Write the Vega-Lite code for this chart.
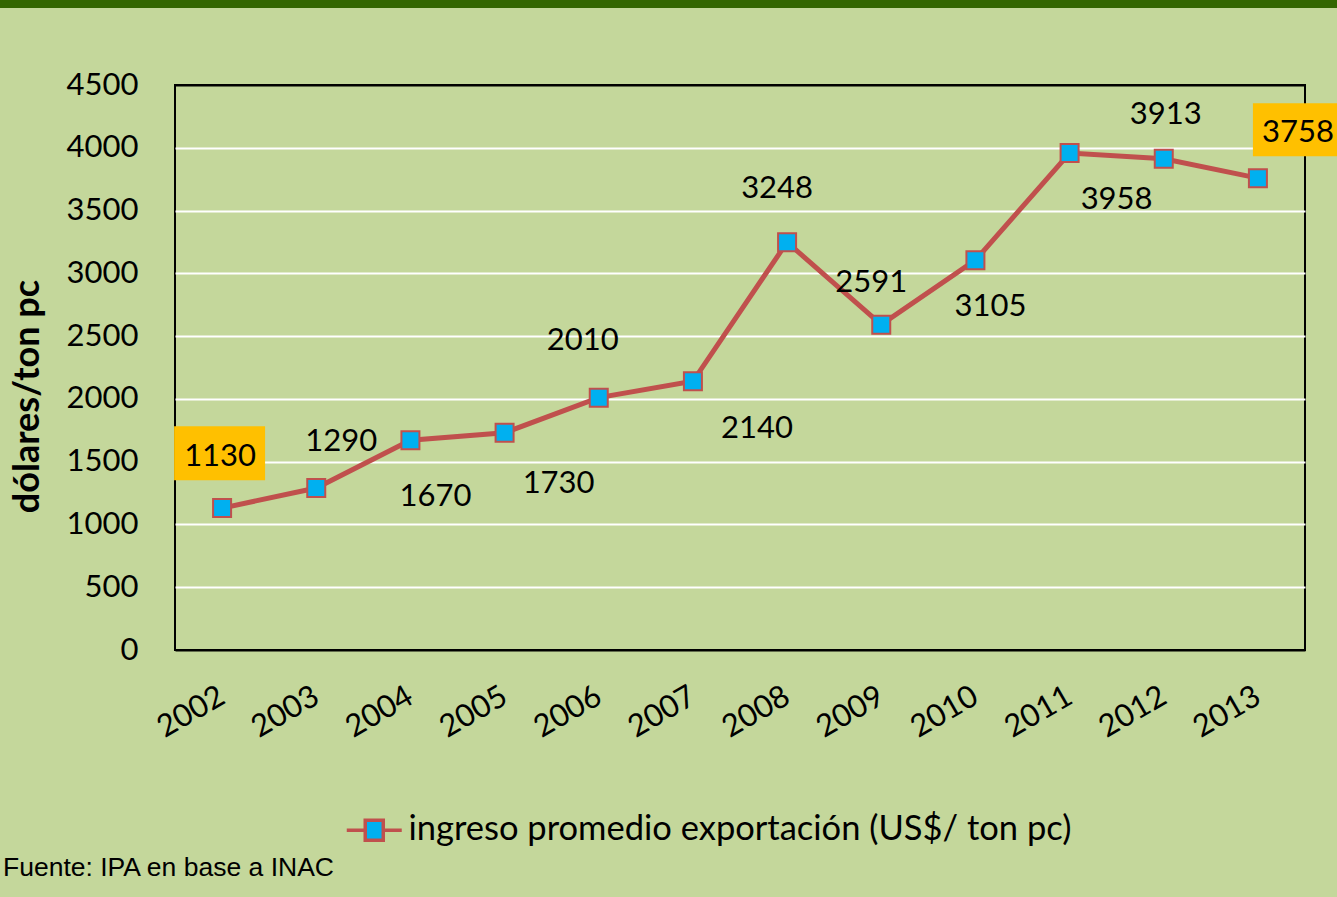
{
  "$schema": "https://vega.github.io/schema/vega-lite/v6.json",
  "background": "#c4d79b",
  "autosize": {"type": "none"},
  "padding": {"left": 175, "top": 85, "right": 32, "bottom": 247},
  "width": 1130,
  "height": 565,
  "title": {
    "text": "Fuente: IPA en base a INAC",
    "orient": "bottom",
    "anchor": "start",
    "frame": "group",
    "font": "Liberation Sans",
    "fontSize": 26.5,
    "fontWeight": "normal",
    "color": "black",
    "dx": -172,
    "offset": 7
  },
  "data": {
    "values": [
      {"year": "2002", "value": 1130},
      {"year": "2003", "value": 1290},
      {"year": "2004", "value": 1670},
      {"year": "2005", "value": 1730},
      {"year": "2006", "value": 2010},
      {"year": "2007", "value": 2140},
      {"year": "2008", "value": 3248},
      {"year": "2009", "value": 2591},
      {"year": "2010", "value": 3105},
      {"year": "2011", "value": 3958},
      {"year": "2012", "value": 3913},
      {"year": "2013", "value": 3758}
    ]
  },
  "encoding": {
    "x": {
      "field": "year",
      "type": "ordinal",
      "scale": {"type": "point", "padding": 0.5},
      "axis": {
        "title": null,
        "labelAngle": -30,
        "labelAlign": "right",
        "labelBaseline": "middle",
        "labelPadding": 44,
        "labelFont": "Lato",
        "labelFontSize": 31,
        "labelColor": "black",
        "ticks": false,
        "domain": false,
        "grid": false
      }
    },
    "y": {
      "field": "value",
      "type": "quantitative",
      "scale": {"domain": [0, 4500], "nice": false},
      "axis": {
        "title": "dólares/ton pc",
        "titleFont": "Lato",
        "titleFontSize": 36,
        "titleFontWeight": "bold",
        "titleColor": "black",
        "titleX": -148,
        "titleY": 311,
        "titleAngle": -90,
        "titleAlign": "center",
        "titleBaseline": "middle",
        "values": [0, 500, 1000, 1500, 2000, 2500, 3000, 3500, 4000, 4500],
        "format": "d",
        "labelFont": "Lato",
        "labelFontSize": 31,
        "labelColor": "black",
        "labelPadding": 37,
        "ticks": false,
        "domain": false,
        "grid": true,
        "gridWidth": 2,
        "gridColor": {"condition": {"test": "datum.value === 0 || datum.value === 4500", "value": "black"}, "value": "white"}
      }
    }
  },
  "layer": [
    {
      "data": {"values": [{}]},
      "mark": {"type": "rect", "x": -175, "x2": 1162, "y": -85, "y2": -77, "color": "#336600"},
      "encoding": {"x": null, "y": null}
    },
    {
      "mark": {"type": "line", "color": "#c0504d", "strokeWidth": 5}
    },
    {
      "mark": {"type": "point", "shape": "square", "size": 324, "filled": true, "fill": "#00b0f0", "stroke": "#c0504d", "strokeWidth": 2, "opacity": 1}
    },
    {
      "transform": [{"filter": "false"}],
      "mark": {"type": "point", "shape": "M-2,0H-0.655M0.655,0H2M-0.655,-0.727H0.655V0.727H-0.655Z", "filled": false, "fill": "#00b0f0", "strokeWidth": 3.5, "opacity": 1},
      "encoding": {
        "stroke": {
          "datum": "ingreso promedio exportación (US$/ ton pc)",
          "type": "nominal",
          "scale": {
            "domain": ["ingreso promedio exportación (US$/ ton pc)"],
            "range": ["#c0504d"]
          },
          "legend": {
            "orient": "none",
            "legendX": 182,
            "legendY": 728,
            "title": null,
            "padding": 0,
            "labelFont": "Lato",
            "labelFontSize": 34.5,
            "labelColor": "black",
            "labelLimit": 0,
            "labelOffset": 17,
            "symbolType": "M-2,0H-0.655M0.655,0H2M-0.655,-0.727H0.655V0.727H-0.655Z",
            "symbolSize": 756,
            "symbolStrokeWidth": 3.5,
            "symbolFillColor": "#00b0f0",
            "symbolOpacity": 1
          }
        }
      }
    },
    {
      "transform": [{"filter": "datum.year == '2002'"}],
      "mark": {"type": "point", "shape": "M-1.055,-1.802L0.945,-1.802L0.945,-0.615L-1.055,-0.615Z", "size": 8281, "filled": true, "fill": "#ffc000", "strokeWidth": 0, "opacity": 1}
    },
    {
      "transform": [{"filter": "datum.year == '2013'"}],
      "mark": {"type": "point", "shape": "M-0.11,-1.648L1.89,-1.648L1.89,-0.484L-0.11,-0.484Z", "size": 8281, "filled": true, "fill": "#ffc000", "strokeWidth": 0, "opacity": 1}
    },
    {"transform": [{"filter": "datum.year == '2002'"}], "mark": {"type": "text", "dx": -2, "dy": -51}, "encoding": {"text": {"field": "value"}}},
    {"transform": [{"filter": "datum.year == '2003'"}], "mark": {"type": "text", "dx": 25, "dy": -46}, "encoding": {"text": {"field": "value"}}},
    {"transform": [{"filter": "datum.year == '2004'"}], "mark": {"type": "text", "dx": 25, "dy": 57}, "encoding": {"text": {"field": "value"}}},
    {"transform": [{"filter": "datum.year == '2005'"}], "mark": {"type": "text", "dx": 54, "dy": 51}, "encoding": {"text": {"field": "value"}}},
    {"transform": [{"filter": "datum.year == '2006'"}], "mark": {"type": "text", "dx": -16, "dy": -57}, "encoding": {"text": {"field": "value"}}},
    {"transform": [{"filter": "datum.year == '2007'"}], "mark": {"type": "text", "dx": 64, "dy": 48}, "encoding": {"text": {"field": "value"}}},
    {"transform": [{"filter": "datum.year == '2008'"}], "mark": {"type": "text", "dx": -10, "dy": -53}, "encoding": {"text": {"field": "value"}}},
    {"transform": [{"filter": "datum.year == '2009'"}], "mark": {"type": "text", "dx": -10, "dy": -42}, "encoding": {"text": {"field": "value"}}},
    {"transform": [{"filter": "datum.year == '2010'"}], "mark": {"type": "text", "dx": 15, "dy": 47}, "encoding": {"text": {"field": "value"}}},
    {"transform": [{"filter": "datum.year == '2011'"}], "mark": {"type": "text", "dx": 47, "dy": 47}, "encoding": {"text": {"field": "value"}}},
    {"transform": [{"filter": "datum.year == '2012'"}], "mark": {"type": "text", "dx": 2, "dy": -44}, "encoding": {"text": {"field": "value"}}},
    {"transform": [{"filter": "datum.year == '2013'"}], "mark": {"type": "text", "dx": 40, "dy": -45}, "encoding": {"text": {"field": "value"}}}
  ],
  "config": {
    "view": {"stroke": "black", "strokeWidth": 2},
    "text": {"font": "Lato", "fontSize": 31, "color": "black", "baseline": "middle", "align": "center"}
  }
}
